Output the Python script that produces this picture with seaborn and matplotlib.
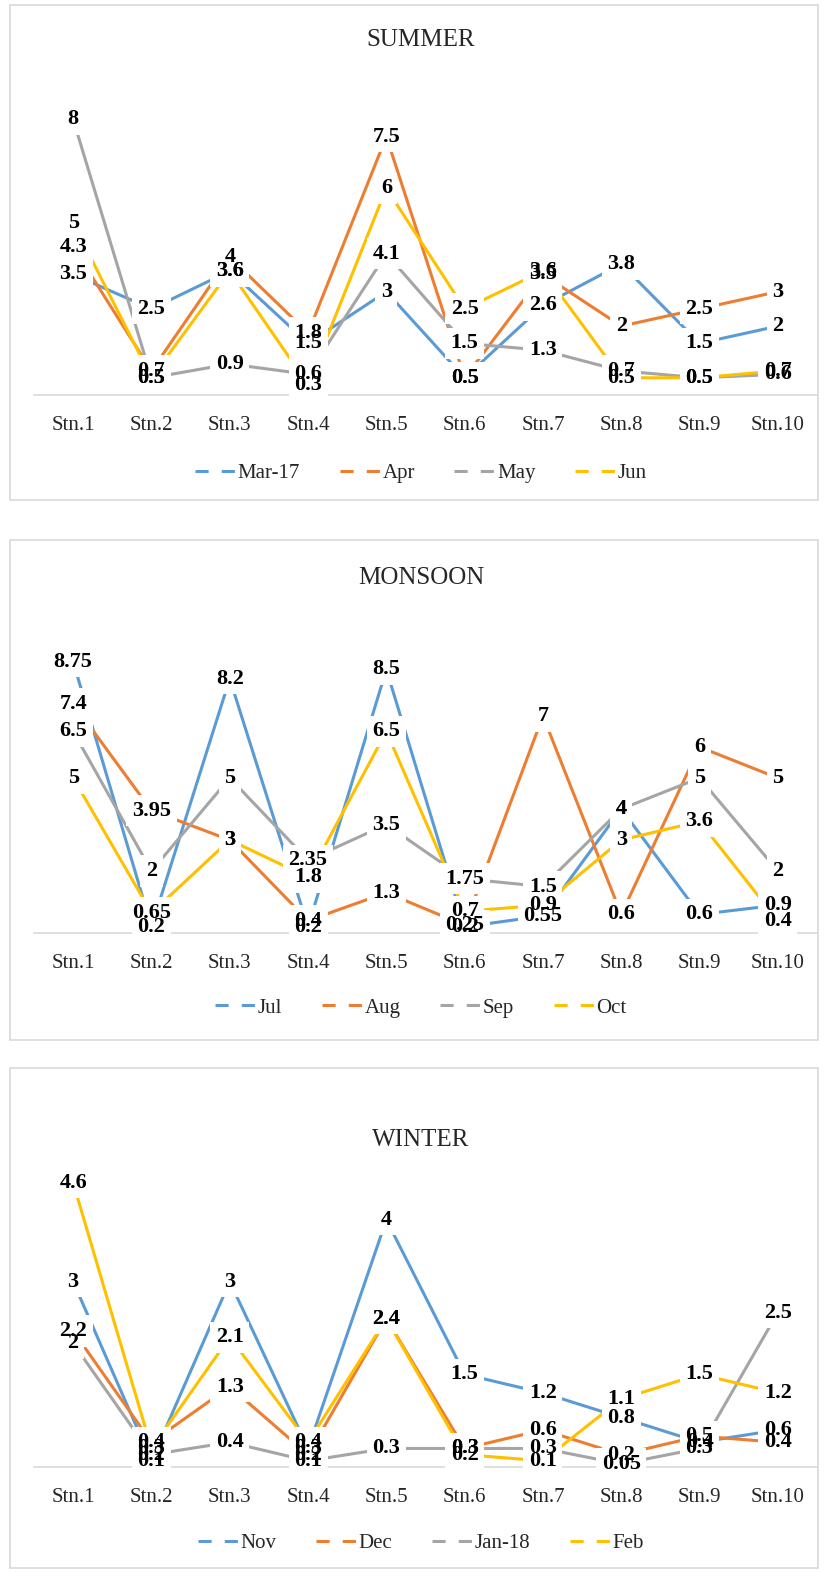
import matplotlib
matplotlib.use("Agg")
import matplotlib.pyplot as plt
from matplotlib.lines import Line2D
from matplotlib.patches import Rectangle
import seaborn as sns
import pandas as pd

sns.set_style("white", {'axes.grid': False})
plt.rcParams['font.family'] = ['Liberation Serif', 'DejaVu Serif']

# data
stations = ["Stn.1", "Stn.2", "Stn.3", "Stn.4", "Stn.5",
            "Stn.6", "Stn.7", "Stn.8", "Stn.9", "Stn.10"]

# summer
summer_months = ["Mar-17", "Apr", "May", "Jun"]
mar17 = [3.5, 2.5, 3.6, 1.5, 3, 0.5, 2.6, 3.8, 1.5, 2]
apr = [4.3, 0.7, 4, 1.8, 7.5, 0.5, 3.5, 2, 2.5, 3]
may = [8, 0.5, 0.9, 0.6, 4.1, 1.5, 1.3, 0.7, 0.5, 0.6]
jun = [5, 0.5, 3.6, 0.3, 6, 2.5, 3.6, 0.5, 0.5, 0.7]

# monsoon
monsoon_months = ["Jul", "Aug", "Sep", "Oct"]
jul = [8.75, 0.2, 8.2, 0.2, 8.5, 0.2, 0.55, 4, 0.6, 0.9]
aug = [7.4, 3.95, 3, 0.4, 1.3, 0.25, 7, 0.6, 6, 5]
sep = [6.5, 2, 5, 2.35, 3.5, 1.75, 1.5, 4, 5, 2]
octo = [5, 0.65, 3, 1.8, 6.5, 0.7, 0.9, 3, 3.6, 0.4]

# winter
winter_months = ["Nov", "Dec", "Jan-18", "Feb"]
nov = [3, 0.1, 3, 0.3, 4, 1.5, 1.2, 0.8, 0.4, 0.6]
dec = [2.2, 0.4, 1.3, 0.2, 2.4, 0.3, 0.6, 0.2, 0.5, 0.4]
jan18 = [2, 0.2, 0.4, 0.1, 0.3, 0.3, 0.3, 0.05, 0.3, 2.5]
feb = [4.6, 0.3, 2.1, 0.4, 2.4, 0.2, 0.1, 1.1, 1.5, 1.2]

colors = ["#5B9BD5", "#ED7D31", "#A5A5A5", "#FFC000"]

W, H = 827, 1572
fig = plt.figure(figsize=(W / 100, H / 100), dpi=100)


def fy(px):
    return 1 - px / H


panels = [
    ("SUMMER", summer_months, [mar17, apr, may, jun], 9, 5, 500, 40, 85, 395, 470),
    ("MONSOON", monsoon_months, [jul, aug, sep, octo], 10, 540, 1040, 578, 623, 933, 1005),
    ("WINTER", winter_months, [nov, dec, jan18, feb], 5, 1068, 1568, 1140, 1158, 1467, 1540),
]

for title, months, series, ymax, box_top, box_bot, title_y, top, base, leg_y in panels:
    # panel frame
    fig.add_artist(Rectangle((10 / W, fy(box_bot)), 808 / W, (box_bot - box_top) / H,
                             transform=fig.transFigure, fill=False,
                             edgecolor="#D9D9D9", lw=1.2))
    ax = fig.add_axes([34 / W, fy(base), 783 / W, (base - top) / H])

    df = pd.DataFrame({
        "x": list(range(len(stations))) * len(months),
        "value": [v for s in series for v in s],
        "month": [m for m in months for _ in stations],
    })
    sns.lineplot(data=df, x="x", y="value", hue="month", hue_order=months,
                 palette=dict(zip(months, colors)), sort=False, lw=2.2,
                 legend=False, ax=ax, zorder=2)

    # data labels: white boxes first, then the text on top
    for s in series:
        for i, v in enumerate(s):
            ax.text(i, v, f"{v:g}", ha="center", va="center", fontsize=16,
                    fontweight="bold", color="none", zorder=3,
                    bbox=dict(boxstyle="square,pad=0.25", fc="white", ec="none"))
    for s in series:
        for i, v in enumerate(s):
            ax.text(i, v, f"{v:g}", ha="center", va="center", fontsize=16,
                    fontweight="bold", color="black", zorder=4)

    ax.set_xlim(-0.5, len(stations) - 0.5)
    ax.set_ylim(0, ymax)
    ax.set_xticks(range(len(stations)))
    ax.set_xticklabels(stations, fontsize=15)
    ax.set_yticks([])
    ax.set(xlabel="", ylabel="")
    ax.tick_params(axis="x", length=0, pad=15)
    sns.despine(ax=ax, left=True)
    ax.spines["bottom"].set_color("#D9D9D9")
    ax.spines["bottom"].set_linewidth(1.2)
    ax.patch.set_alpha(0)

    fig.text(421 / W, fy(title_y), title, ha="center", va="center", fontsize=18)

    handles = [Line2D([], [], color=c, lw=2.2, dashes=(4.3, 4.3)) for c in colors]
    fig.legend(handles, months, loc="center", bbox_to_anchor=(421 / W, fy(leg_y + 3)),
               ncol=4, frameon=False, fontsize=15, handlelength=1.95,
               handletextpad=0.1, columnspacing=1.9)

fig.savefig("out.png", dpi=100)
